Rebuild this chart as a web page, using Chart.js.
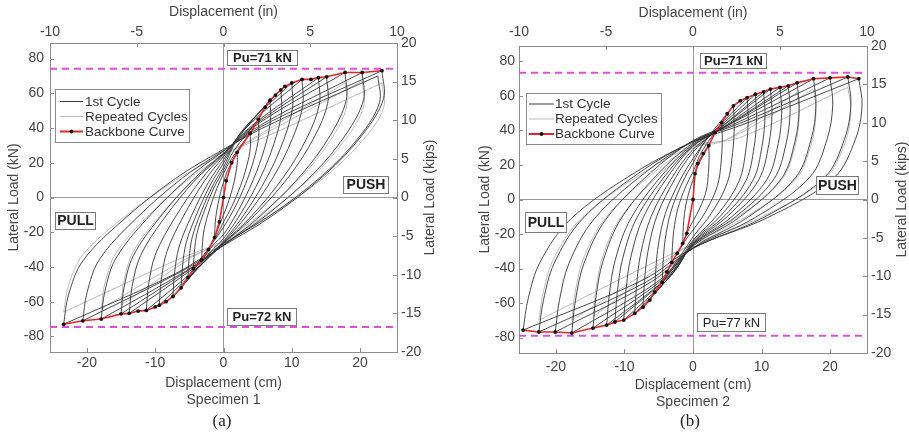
<!DOCTYPE html>
<html>
<head>
<meta charset="utf-8">
<script src="https://cdn.jsdelivr.net/npm/chart.js@4.4.1/dist/chart.umd.min.js"></script>
<style>
  body { margin: 0; background: #fff; width: 909px; height: 443px; position: relative; overflow: hidden; }
  canvas { position: absolute; top: 0; }
  #chartA { left: 0; }
  #chartB { left: 462px; }
  .cap { position: absolute; top: 411px; width: 40px; text-align: center; color: #222;
         font: 17px 'Liberation Serif', 'Times New Roman', serif; }
</style>
</head>
<body>
<canvas id="chartA" width="462" height="443"></canvas>
<canvas id="chartB" width="447" height="443"></canvas>
<div class="cap" style="left:202px">(a)</div>
<div class="cap" style="left:670px">(b)</div>
<script>
// ticks
const cmTicks = [-20, -10, 0, 10, 20];
const inTicks = [-10, -5, 0, 5, 10];
const kNTicks = [-80, -60, -40, -20, 0, 20, 40, 60, 80];
const kipTicks = [-20, -15, -10, -5, 0, 5, 10, 15, 20];

// Specimen 1 - backbone (cm, kN)
const backboneA_x = [-23.4, -20.6, -17.9, -15, -13.8, -12.5, -11.3, -10, -9.4, -8.4, -7.4, -6.2, -5.2, -4.4, -3.2, -2.2, -1.3, -0.6, 0, 0.4,
    1.2, 2.0, 3.9, 5.1, 6.1, 6.8, 7.6, 8.4, 9.0, 10, 11.5, 12.8, 13.9, 15.1, 17.8, 20.3, 23.2];
const backboneA_y = [-73, -71, -70, -67, -66.7, -65.4, -65, -63, -62, -60, -57, -52, -46, -41, -36, -30, -23, -14, 0, 9.7,
    20, 26, 37, 45, 52, 56, 59, 62, 64, 66, 68, 68, 69, 69.5, 72, 72, 73];

// Specimen 1 - first cycles, read as points along each loop
const cyclesA = [
    [[-1.3,-23],[-1.26,-17.7],[-1.14,-11.5],[-0.82,-4.1],[-0.39,3.5],[0,8.7],[0.6,15.6],[2.0,26],[2.02,20.3],[1.76,13],[1.28,4.7],[0.6,-3.9],[0,-9.9],[-0.39,-13.8],[-1.3,-23]],
    [[-3.2,-36],[-3.1,-27.7],[-2.82,-18],[-2.02,-6.5],[-0.96,5.4],[0,13.7],[1.17,22.2],[3.9,37],[3.94,28.9],[3.43,18.5],[2.5,6.7],[1.17,-5.6],[0,-14.1],[-0.96,-21.6],[-3.2,-36]],
    [[-4.4,-41],[-4.27,-31.6],[-3.87,-20.5],[-2.77,-7.4],[-1.32,6.2],[0,15.6],[1.53,27],[5.1,45],[5.15,35.1],[4.49,22.5],[3.26,8.1],[1.53,-6.8],[0,-17.1],[-1.32,-24.6],[-4.4,-41]],
    [[-5.2,-46],[-5.04,-35.4],[-4.58,-23],[-3.28,-8.3],[-1.56,6.9],[0,17.5],[2.04,33.6],[6.8,56],[6.87,43.7],[5.98,28],[4.35,10.1],[2.04,-8.4],[0,-21.3],[-1.56,-27.6],[-5.2,-46]],
    [[-6.2,-52],[-6.01,-40],[-5.46,-26],[-3.91,-9.4],[-1.86,7.8],[0,19.8],[2.52,37.2],[8.4,62],[8.48,48.4],[7.39,31],[5.38,11.2],[2.52,-9.3],[0,-23.6],[-1.86,-31.2],[-6.2,-52]],
    [[-7.4,-57],[-7.18,-43.9],[-6.51,-28.5],[-4.66,-10.3],[-2.22,8.6],[0,21.7],[3,39.6],[10,66],[10.1,51.5],[8.8,33],[6.4,11.9],[3,-9.9],[0,-25.1],[-2.22,-34.2],[-7.4,-57]],
    [[-9.4,-62],[-9.12,-47.7],[-8.27,-31],[-5.92,-11.2],[-2.82,9.3],[0,23.6],[3.45,40.8],[11.5,68],[11.6,53],[10.1,34],[7.36,12.2],[3.45,-10.2],[0,-25.8],[-2.82,-37.2],[-9.4,-62]],
    [[-11.3,-65],[-10.96,-50],[-9.94,-32.5],[-7.12,-11.7],[-3.39,9.8],[0,24.7],[4.17,41.4],[13.9,69],[14.04,53.8],[12.23,34.5],[8.9,12.4],[4.17,-10.4],[0,-26.2],[-3.39,-39],[-11.3,-65]],
    [[-13.8,-66.7],[-13.39,-51.4],[-12.14,-33.4],[-8.69,-12],[-4.14,10],[0,25.3],[4.53,41.7],[15.1,69.5],[15.25,54.2],[13.29,34.8],[9.66,12.5],[4.53,-10.4],[0,-26.4],[-4.14,-40],[-13.8,-66.7]],
    [[-15,-67],[-14.55,-51.6],[-13.2,-33.5],[-9.45,-12.1],[-4.5,10.1],[0,25.5],[5.34,43.2],[17.8,72],[17.98,56.2],[15.66,36],[11.39,13],[5.34,-10.8],[0,-27.4],[-4.5,-40.2],[-15,-67]],
    [[-17.9,-70],[-17.36,-53.9],[-15.75,-35],[-11.28,-12.6],[-5.37,10.5],[0,26.6],[6.09,43.2],[20.3,72],[20.5,56.2],[17.86,36],[12.99,13],[6.09,-10.8],[0,-27.4],[-5.37,-42],[-17.9,-70]],
    [[-20.6,-71],[-19.98,-54.7],[-18.13,-35.5],[-12.98,-12.8],[-6.18,10.7],[0,27],[6.96,43.8],[23.2,73],[23.43,56.9],[20.42,36.5],[14.85,13.1],[6.96,-11],[0,-27.7],[-6.18,-42.6],[-20.6,-71]],
    [[-23.4,-73],[-22.7,-56.2],[-20.59,-36.5],[-14.74,-13.1],[-7.02,11],[0,27.7],[6.78,42],[22.6,70],[22.83,54.6],[19.89,35],[14.46,12.6],[6.78,-10.5],[0,-26.6],[-7.02,-43.8],[-23.4,-73]]
];

// Specimen 1 - repeated cycles
const repeatsA = [
    [[-15,-62],[-14.55,-47.7],[-13.2,-31],[-9.45,-11.2],[-4.5,9.3],[0,23.6],[5.34,36.3],[17.8,66],[17.98,51.5],[15.66,33],[11.39,11.9],[5.34,-9.9],[0,-25.1],[-4.5,-34.1],[-15,-62]],
    [[-17.9,-64],[-17.36,-49.3],[-15.75,-32],[-11.28,-11.5],[-5.37,9.6],[0,24.3],[6.09,36.9],[20.3,67],[20.5,52.3],[17.86,33.5],[12.99,12.1],[6.09,-10.1],[0,-25.5],[-5.37,-35.2],[-17.9,-64]],
    [[-23.4,-66],[-22.7,-50.8],[-20.59,-33],[-14.74,-11.9],[-7.02,9.9],[0,25.1],[6.96,36.3],[23.2,66],[23.43,51.5],[20.42,33],[14.85,11.9],[6.96,-9.9],[0,-25.1],[-7.02,-36.3],[-23.4,-66]]
];
const puLinesA = [74.2, -74.6];

// Specimen 2 - backbone (cm, kN)
const backboneB_x = [-24.8, -22.5, -20.1, -17.7, -14.6, -12.6, -11.4, -10.1, -8.5, -7.3, -6.3, -5.6, -4.5, -3.8, -3.1, -2.3, -1.5, -0.9, 0, 0.3,
    0.7, 1.5, 2.3, 3.2, 4.2, 5, 5.9, 6.9, 7.9, 9.1, 10.3, 11.3, 12.7, 13.9, 15.2, 17.6, 20, 22.6, 24.2];
const backboneB_y = [-75.7, -76.8, -76.8, -77.4, -74.5, -72.8, -71, -69.9, -66, -62.4, -58.3, -53.7, -48, -42, -36.4, -31.2, -25.4, -19.6, 0, 15,
    20.8, 26.6, 31.2, 38.7, 44.5, 49.7, 54.3, 57.2, 59, 61, 62.4, 64, 65, 65.9, 67.6, 70, 70.5, 71, 70];

// Specimen 2 - first cycles
const cyclesB = [
    [[-1.5,-25.4],[-1.46,-19.3],[-1.35,-12.2],[-1.08,-3.8],[-0.53,5.1],[0,11.2],[0.69,19.3],[2.3,31.2],[2.35,24.3],[2.25,15.6],[1.96,5.6],[1.04,-4.7],[0,-12.5],[-0.45,-15.7],[-1.5,-25.4]],
    [[-3.1,-36.4],[-3.01,-27.7],[-2.79,-17.5],[-2.23,-5.5],[-1.09,7.3],[0,16],[1.26,27.6],[4.2,44.5],[4.28,34.7],[4.12,22.3],[3.57,8],[1.89,-6.7],[0,-17.8],[-0.93,-22.6],[-3.1,-36.4]],
    [[-4.5,-48],[-4.37,-36.5],[-4.05,-23],[-3.24,-7.2],[-1.58,9.6],[0,21.1],[1.77,33.7],[5.9,54.3],[6.02,42.4],[5.78,27.2],[5.02,9.8],[2.66,-8.1],[0,-21.7],[-1.35,-29.8],[-4.5,-48]],
    [[-5.6,-53.7],[-5.43,-40.8],[-5.04,-25.8],[-4.03,-8.1],[-1.96,10.7],[0,23.6],[2.37,36.6],[7.9,59],[8.06,46],[7.74,29.5],[6.72,10.6],[3.56,-8.9],[0,-23.6],[-1.68,-33.3],[-5.6,-53.7]],
    [[-7.3,-62.4],[-7.08,-47.4],[-6.57,-30],[-5.26,-9.4],[-2.56,12.5],[0,27.5],[2.73,37.8],[9.1,61],[9.28,47.6],[8.92,30.5],[7.74,11],[4.1,-9.2],[0,-24.4],[-2.19,-38.7],[-7.3,-62.4]],
    [[-8.5,-66],[-8.25,-50.2],[-7.65,-31.7],[-6.12,-9.9],[-2.98,13.2],[0,29],[3.09,38.7],[10.3,62.4],[10.51,48.7],[10.09,31.2],[8.76,11.2],[4.64,-9.4],[0,-25],[-2.55,-40.9],[-8.5,-66]],
    [[-10.1,-69.9],[-9.8,-53.1],[-9.09,-33.6],[-7.27,-10.5],[-3.54,14],[0,30.8],[3.39,39.7],[11.3,64],[11.53,49.9],[11.07,32],[9.61,11.5],[5.09,-9.6],[0,-25.6],[-3.03,-43.3],[-10.1,-69.9]],
    [[-11.4,-71],[-11.06,-54],[-10.26,-34.1],[-8.21,-10.7],[-3.99,14.2],[0,31.2],[3.81,40.3],[12.7,65],[12.95,50.7],[12.45,32.5],[10.8,11.7],[5.72,-9.8],[0,-26],[-3.42,-44],[-11.4,-71]],
    [[-12.6,-72.8],[-12.22,-55.3],[-11.34,-34.9],[-9.07,-10.9],[-4.41,14.6],[0,32],[4.17,40.9],[13.9,65.9],[14.18,51.4],[13.62,33],[11.82,11.9],[6.26,-9.9],[0,-26.4],[-3.78,-45.1],[-12.6,-72.8]],
    [[-14.6,-74.5],[-14.16,-56.6],[-13.14,-35.8],[-10.51,-11.2],[-5.11,14.9],[0,32.8],[4.56,41.9],[15.2,67.6],[15.5,52.7],[14.9,33.8],[12.92,12.2],[6.84,-10.1],[0,-27],[-4.38,-46.2],[-14.6,-74.5]],
    [[-17.7,-77.4],[-17.17,-58.8],[-15.93,-37.2],[-12.74,-11.6],[-6.2,15.5],[0,34.1],[5.28,43.4],[17.6,70],[17.95,54.6],[17.25,35],[14.96,12.6],[7.92,-10.5],[0,-28],[-5.31,-48],[-17.7,-77.4]],
    [[-20.1,-76.8],[-19.5,-58.4],[-18.09,-36.9],[-14.47,-11.5],[-7.04,15.4],[0,33.8],[6,43.7],[20,70.5],[20.4,55],[19.6,35.3],[17,12.7],[9,-10.6],[0,-28.2],[-6.03,-47.6],[-20.1,-76.8]],
    [[-22.5,-76.8],[-21.83,-58.4],[-20.25,-36.9],[-16.2,-11.5],[-7.88,15.4],[0,33.8],[6.78,44],[22.6,71],[23.05,55.4],[22.15,35.5],[19.21,12.8],[10.17,-10.7],[0,-28.4],[-6.75,-47.6],[-22.5,-76.8]],
    [[-24.8,-75.7],[-24.06,-57.5],[-22.32,-36.3],[-17.86,-11.4],[-8.68,15.1],[0,33.3],[7.26,43.4],[24.2,70],[24.68,54.6],[23.72,35],[20.57,12.6],[10.89,-10.5],[0,-28],[-7.44,-46.9],[-24.8,-75.7]]
];

// Specimen 2 - repeated cycles
const repeatsB = [
    [[-14.6,-68],[-14.16,-51.7],[-13.14,-32.6],[-10.51,-10.2],[-5.11,13.6],[0,29.9],[4.56,34.1],[15.2,62],[15.5,48.4],[14.9,31],[12.92,11.2],[6.84,-9.3],[0,-24.8],[-4.38,-37.4],[-14.6,-68]],
    [[-17.7,-70],[-17.17,-53.2],[-15.93,-33.6],[-12.74,-10.5],[-6.2,14],[0,30.8],[5.28,35.2],[17.6,64],[17.95,49.9],[17.25,32],[14.96,11.5],[7.92,-9.6],[0,-25.6],[-5.31,-38.5],[-17.7,-70]],
    [[-22.5,-70],[-21.83,-53.2],[-20.25,-33.6],[-16.2,-10.5],[-7.88,14],[0,30.8],[6.78,35.8],[22.6,65],[23.05,50.7],[22.15,32.5],[19.21,11.7],[10.17,-9.8],[0,-26],[-6.75,-38.5],[-22.5,-70]]
];
const puLinesB = [73.4, -79];

const FONT = "'Liberation Sans', Arial, sans-serif";
const TXT = '#444';
const AXIS = '#8c8c8c';
Chart.defaults.font.family = FONT;

function loopSets(loops, color, width) {
    const out = [];
    loops.forEach(loop => {
        const pts = loop.map(p => ({ x: p[0], y: p[1] }));
        let k = 0;
        pts.forEach((p, i) => { if (p.y > pts[k].y) k = i; });
        [pts.slice(0, k + 1), pts.slice(k)].forEach(part => out.push({
            data: part, showLine: true, borderColor: color, borderWidth: width,
            pointRadius: 0, tension: 0.35, fill: false
        }));
    });
    return out;
}

function decorPlugin(cfg) {
    return {
        id: 'decor',
        afterDatasetsDraw(chart) {
            const ctx = chart.ctx, a = chart.chartArea;
            const sx = chart.scales.x, sy = chart.scales.y;
            ctx.save();

            // inward tick marks
            ctx.strokeStyle = AXIS;
            ctx.lineWidth = 1;
            ctx.beginPath();
            cmTicks.forEach(v => { const p = Math.round(sx.getPixelForValue(v)) + 0.5; ctx.moveTo(p, a.bottom); ctx.lineTo(p, a.bottom - 4); });
            inTicks.forEach(v => { const p = Math.round(chart.scales.x2.getPixelForValue(v)) + 0.5; ctx.moveTo(p, a.top); ctx.lineTo(p, a.top + 4); });
            kNTicks.forEach(v => { const p = Math.round(sy.getPixelForValue(v)) + 0.5; ctx.moveTo(a.left, p); ctx.lineTo(a.left + 4, p); });
            kipTicks.forEach(v => { const p = Math.round(chart.scales.y2.getPixelForValue(v)) + 0.5; ctx.moveTo(a.right, p); ctx.lineTo(a.right - 4, p); });
            ctx.stroke();

            // text boxes
            ctx.textAlign = 'center';
            ctx.textBaseline = 'middle';
            cfg.boxes.forEach(b => {
                const x = Math.round(sx.getPixelForValue(b.x)) + 0.5;
                const y = Math.round(sy.getPixelForValue(b.y) - b.h / 2) + 0.5;
                ctx.fillStyle = '#fff';
                ctx.fillRect(x, y, b.w, b.h);
                ctx.strokeStyle = '#7a7a7a';
                ctx.strokeRect(x, y, b.w, b.h);
                ctx.font = (b.bold ? 'bold ' : '') + b.size + 'px ' + FONT;
                ctx.fillStyle = '#222';
                ctx.fillText(b.text, x + b.w / 2, y + b.h / 2 + 0.5);
            });

            // legend
            const L = cfg.legend;
            ctx.fillStyle = '#fff';
            ctx.fillRect(L.x + 0.5, L.y + 0.5, L.w, L.h);
            ctx.strokeStyle = '#8a8a8a';
            ctx.strokeRect(L.x + 0.5, L.y + 0.5, L.w, L.h);
            const items = [
                { text: '1st Cycle', color: '#3a3a3a', w: 1 },
                { text: 'Repeated Cycles', color: '#bdbdbd', w: 1 },
                { text: 'Backbone Curve', color: '#e3262b', w: 2, dot: true }
            ];
            ctx.font = '13.5px ' + FONT;
            ctx.textAlign = 'left';
            items.forEach((it, i) => {
                const y = L.rows[i];
                ctx.strokeStyle = it.color;
                ctx.lineWidth = it.w;
                ctx.beginPath();
                ctx.moveTo(L.lx0, y);
                ctx.lineTo(L.lx1, y);
                ctx.stroke();
                if (it.dot) {
                    ctx.fillStyle = '#111';
                    ctx.beginPath();
                    ctx.arc((L.lx0 + L.lx1) / 2, y, 1.9, 0, Math.PI * 2);
                    ctx.fill();
                }
                ctx.fillStyle = '#333';
                ctx.fillText(it.text, L.tx, y + 0.5);
            });

            // right axis title, read bottom to top
            ctx.translate(cfg.rightTitleX, (a.top + a.bottom) / 2);
            ctx.rotate(-Math.PI / 2);
            ctx.font = '14px ' + FONT;
            ctx.fillStyle = TXT;
            ctx.textAlign = 'center';
            ctx.fillText('Lateral Load (kips)', 0, 0);
            ctx.restore();
        }
    };
}

function makeChart(id, cfg) {
    const tickFont = { size: 14 };
    const datasets = [];

    datasets.push({
        data: cfg.bbx.map((x, i) => ({ x: x, y: cfg.bby[i] })),
        showLine: true, borderColor: '#e3262b', borderWidth: 1.6, tension: 0,
        pointRadius: 1.9, pointBackgroundColor: '#111', pointBorderWidth: 0
    });
    cfg.pu.forEach(v => datasets.push({
        data: [{ x: -25.4, y: v }, { x: 25.4, y: v }],
        showLine: true, borderColor: '#e04ee0', borderWidth: 2, borderDash: [7, 5], pointRadius: 0
    }));
    datasets.push(...loopSets(cfg.cycles, 'rgba(50,50,50,0.88)', 1));
    datasets.push(...loopSets(cfg.repeats, '#bdbdbd', 1));

    new Chart(document.getElementById(id), {
        type: 'scatter',
        data: { datasets: datasets },
        options: {
            responsive: false,
            animation: false,
            events: [],
            layout: { padding: 0 },
            plugins: { legend: { display: false }, tooltip: { enabled: false } },
            scales: {
                x: {
                    type: 'linear', position: 'bottom', min: -25.4, max: 25.4,
                    afterBuildTicks: s => { s.ticks = cmTicks.map(v => ({ value: v })); },
                    afterFit: s => { s.height = cfg.bottomH; },
                    grid: { drawTicks: false, color: c => (c.tick && c.tick.value === 0 ? '#9a9a9a' : 'rgba(0,0,0,0)') },
                    border: { color: AXIS },
                    ticks: { padding: cfg.xPad, color: TXT, font: tickFont },
                    title: { display: true, text: ['Displacement (cm)', cfg.specimen], color: TXT, font: { size: 14 },
                             padding: { top: 0, bottom: cfg.bottomTitlePad } }
                },
                x2: {
                    type: 'linear', position: 'top', min: -10, max: 10,
                    afterBuildTicks: s => { s.ticks = inTicks.map(v => ({ value: v })); },
                    afterFit: s => { s.height = cfg.topH; },
                    grid: { drawTicks: false, drawOnChartArea: false },
                    border: { color: AXIS },
                    ticks: { padding: cfg.xPad, color: TXT, font: tickFont },
                    title: { display: true, text: 'Displacement (in)', color: TXT, font: { size: 14 },
                             padding: { top: cfg.topTitlePad, bottom: 0 } }
                },
                y: {
                    type: 'linear', position: 'left', min: -88.96, max: 88.96,
                    afterBuildTicks: s => { s.ticks = kNTicks.map(v => ({ value: v })); },
                    afterFit: s => { s.width = cfg.leftW; },
                    grid: { drawTicks: false, color: c => (c.tick && c.tick.value === 0 ? '#9a9a9a' : 'rgba(0,0,0,0)') },
                    border: { color: AXIS },
                    ticks: { padding: cfg.yPad, color: TXT, font: tickFont },
                    title: { display: true, text: 'Lateral Load (kN)', color: TXT, font: { size: 14 },
                             padding: { top: cfg.leftTitlePad, bottom: 0 } }
                },
                y2: {
                    type: 'linear', position: 'right', min: -20, max: 20,
                    afterBuildTicks: s => { s.ticks = kipTicks.map(v => ({ value: v })); },
                    afterFit: s => { s.width = cfg.rightW; },
                    grid: { drawTicks: false, drawOnChartArea: false },
                    border: { color: AXIS },
                    ticks: { padding: 4, color: TXT, font: tickFont }
                }
            }
        },
        plugins: [decorPlugin(cfg)]
    });
}

makeChart('chartA', {
    specimen: 'Specimen 1',
    bbx: backboneA_x, bby: backboneA_y, cycles: cyclesA, repeats: repeatsA, pu: puLinesA,
    leftW: 50, rightW: 65, topH: 43, bottomH: 91,
    xPad: 2.6, yPad: 6, bottomTitlePad: 34.6, topTitlePad: 3.6, leftTitlePad: 5.6, rightTitleX: 430,
    boxes: [
        { text: 'Pu=71 kN', x: 0.45, y: 80.6, w: 70, h: 15, size: 13, bold: true },
        { text: 'PUSH', x: 17.5, y: 7.2, w: 45, h: 17, size: 14, bold: true },
        { text: 'PULL', x: -24.7, y: -13, w: 40, h: 17, size: 14, bold: true },
        { text: 'Pu=72 kN', x: 0.47, y: -68.6, w: 69, h: 17, size: 13, bold: true }
    ],
    legend: { x: 55, y: 89, w: 134, h: 53, rows: [101.5, 116.5, 131.5], lx0: 60, lx1: 83, tx: 85 }
});

makeChart('chartB', {
    specimen: 'Specimen 2',
    bbx: backboneB_x, bby: backboneB_y, cycles: cyclesB, repeats: repeatsB, pu: puLinesB,
    leftW: 57, rightW: 42, topH: 46, bottomH: 90,
    xPad: 5.3, yPad: 4, bottomTitlePad: 32.6, topTitlePad: 4.9, leftTitlePad: 14.6, rightTitleX: 440,
    boxes: [
        { text: 'Pu=71 kN', x: 1.0, y: 80.4, w: 66, h: 15, size: 13, bold: true },
        { text: 'PUSH', x: 18.0, y: 8.4, w: 42, h: 18, size: 14, bold: true },
        { text: 'PULL', x: -24.5, y: -13, w: 41, h: 20, size: 14, bold: true },
        { text: 'Pu=77 kN', x: 0.58, y: -71, w: 68, h: 18, size: 13, bold: false }
    ],
    legend: { x: 64, y: 93, w: 135, h: 51, rows: [104, 119, 134], lx0: 67, lx1: 92, tx: 93 }
});
</script>
</body>
</html>
